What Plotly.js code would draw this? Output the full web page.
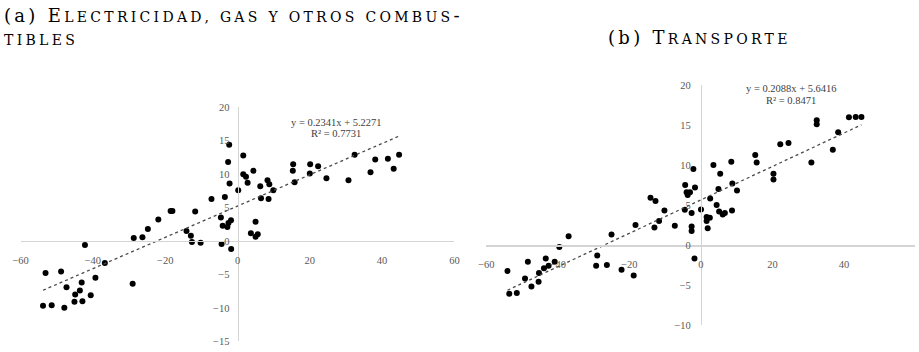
<!DOCTYPE html>
<html>
<head>
<meta charset="utf-8">
<script src="https://cdn.plot.ly/plotly-3.0.1.min.js"></script>
<style>html,body{margin:0;padding:0;background:#fff;}#chart{width:919px;height:352px;}</style>
</head>
<body>
<div id="chart"></div>
<script>
// ---- Data: panel (a) Electricidad, gas y otros combustibles ----
const aX = [-53.1,-48.8,-42.2,-36.7,-39.3,-47.3,-43.1,-43.6,-44.9,-40.6,-45.1,-42.9,-53.8,-51.4,-47.9,
  -29.0,-28.7,-26.3,-24.8,-21.9,-18.5,-18.0,-14.1,-12.9,-12.6,-10.2,-11.7,-7.2,-4.6,-4.1,-3.5,-4.4,
  -2.8,-2.5,-1.8,-2.3,-2.6,-2.2,-1.75,0.2,1.6,1.6,2.35,2.8,4.4,3.7,5.0,5.0,5.6,6.3,6.5,8.3,8.8,8.6,9.9,
  15.4,15.3,15.8,20.1,20.0,22.3,24.6,30.7,32.4,36.8,38.1,41.6,43.2,44.7];
const aY = [-4.8,-4.55,-0.6,-3.3,-5.5,-6.9,-6.2,-7.4,-8.0,-8.1,-9.1,-9.0,-9.7,-9.6,-10.0,
  -6.4,0.45,0.55,1.8,3.2,4.5,4.5,1.5,0.8,-0.15,-0.25,4.4,6.3,3.5,2.3,6.6,-0.45,
  2.1,2.7,3.1,14.4,11.8,8.6,-1.2,7.6,12.8,10.0,9.6,8.7,10.5,1.15,2.9,0.65,1.0,8.2,6.4,9.1,8.5,6.3,7.6,
  11.5,10.5,8.8,11.5,10.1,11.2,9.4,9.1,12.9,10.3,12.2,12.3,10.8,12.9];
const aSlope = 0.2341, aIntercept = 5.2271, aR2 = 0.7731;

// ---- Data: panel (b) Transporte ----
const bX = [-54.1,-53.6,-51.5,-48.4,-49.2,-47.4,-45.4,-45.3,-43.9,-43.4,-42.6,-40.9,-39.6,-37.0,
  -29.0,-29.3,-26.3,-25.0,-22.2,-18.8,-18.3,-14.1,-12.7,-13.0,-11.7,-10.2,-7.3,-4.4,-4.5,-4.0,-3.7,-3.05,
  -2.6,-2.6,-2.6,-2.1,-1.65,-1.8,0.03,1.6,1.6,2.5,1.9,2.6,3.5,4.4,4.9,5.1,5.4,6.1,6.7,8.5,8.8,8.7,10.1,
  15.2,15.6,20.3,20.3,22.2,24.5,30.9,32.4,32.4,36.9,38.4,41.4,43.3,44.9];
const bY = [-3.25,-6.1,-6.0,-2.1,-4.2,-5.2,-4.6,-3.5,-2.9,-1.7,-2.6,-2.1,-0.25,1.1,
  -1.3,-2.6,-2.5,1.3,-3.1,-3.8,2.5,5.9,5.5,2.2,3.0,4.3,2.4,7.5,4.4,6.6,6.25,6.6,
  4.0,2.3,1.75,9.5,7.2,-1.7,4.45,3.5,3.0,3.4,2.1,5.8,10.0,5.0,7.0,4.2,8.9,3.8,4.0,10.4,7.7,4.3,6.8,
  11.25,10.3,8.9,8.2,12.6,12.75,10.3,15.6,15.1,11.9,14.1,15.96,16.0,16.0];
const bSlope = 0.2088, bIntercept = 5.6416, bR2 = 0.8471;

const xTicks = [-60,-40,-20,0,20,40,60];
const aYTicks = [-15,-10,-5,0,5,10,15,20];
const bYTicks = [-10,-5,0,5,10,15,20];

// ---- Layout geometry (pixels -> paper fractions) ----
const W = 919, H = 352;
const fx = px => px / W, fy = py => 1 - py / H;
const aXdom = [fx(20.6), fx(454.4)], aYdom = [fy(341.3), fy(107.3)];
const bXdom = [fx(486.4), fx(915.4)], bYdom = [fy(325), fy(85)];
const aXr = [-60,60], aYr = [-15,20], bXr = [-60,60], bYr = [-10,20];
const zeroPos = (dom, r) => dom[0] + (0 - r[0]) / (r[1] - r[0]) * (dom[1] - dom[0]);

function trend(xs, m, b) {
  const lo = Math.min(...xs), hi = Math.max(...xs);
  return {x: [lo, hi], y: [m*lo + b, m*hi + b]};
}
const aT = trend(aX, aSlope, aIntercept), bT = trend(bX, bSlope, bIntercept);

const mk = {color: '#000', size: 6};
const ln = {color: '#4a4a4a', width: 1.3, dash: 'dot'};
const traces = [
  {x: aX, y: aY, type: 'scatter', mode: 'markers', marker: mk, xaxis: 'x', yaxis: 'y', hoverinfo: 'skip'},
  {x: aT.x, y: aT.y, type: 'scatter', mode: 'lines', line: ln, xaxis: 'x', yaxis: 'y', hoverinfo: 'skip'},
  {x: bX, y: bY, type: 'scatter', mode: 'markers', marker: mk, xaxis: 'x2', yaxis: 'y2', hoverinfo: 'skip'},
  {x: bT.x, y: bT.y, type: 'scatter', mode: 'lines', line: ln, xaxis: 'x2', yaxis: 'y2', hoverinfo: 'skip'}
];

const tickFont = {family: 'Liberation Serif, Times New Roman, serif', size: 10.5, color: '#595959'};
function axis(extra) {
  return Object.assign({
    showline: true, linecolor: '#d4d4d4', linewidth: 1, showgrid: false, zeroline: false,
    ticks: '', tickfont: tickFont, tickmode: 'array', fixedrange: true
  }, extra);
}

const fmtEq = (m, b) => 'y = ' + m.toFixed(4) + 'x + ' + b.toFixed(4);
const eqFont = {family: 'Liberation Serif, Times New Roman, serif', size: 10.5, color: '#404040'};
const titleFont = {family: 'DejaVu Serif, serif', size: 18, color: '#000'};
const ls = 'letter-spacing:3.3px';
const big = t => '<span style="' + ls + '">' + t + '</span>';
const sc = t => '<span style="font-size:14px;' + ls + '">' + t + '</span>';

const layout = {
  width: W, height: H,
  margin: {l: 0, r: 0, t: 0, b: 0},
  paper_bgcolor: '#fff', plot_bgcolor: 'rgba(0,0,0,0)',
  showlegend: false,
  xaxis: axis({domain: aXdom, range: aXr, anchor: 'free', position: zeroPos(aYdom, aYr),
    tickvals: xTicks, ticklabelstandoff: 9}),
  yaxis: axis({domain: aYdom, range: aYr, anchor: 'free', position: zeroPos(aXdom, aXr),
    tickvals: aYTicks, ticklabelstandoff: 6}),
  xaxis2: axis({domain: bXdom, range: bXr, anchor: 'free', position: zeroPos(bYdom, bYr),
    tickvals: xTicks, ticklabelstandoff: 9, linewidth: 1.5}),
  yaxis2: axis({domain: bYdom, range: bYr, anchor: 'free', position: zeroPos(bXdom, bXr),
    tickvals: bYTicks, ticklabelstandoff: 8}),
  annotations: [
    {xref: 'paper', yref: 'paper', x: fx(2), y: fy(16), xanchor: 'left', yanchor: 'middle', showarrow: false,
     font: titleFont, text: big('(a) E') + sc('LECTRICIDAD, GAS Y OTROS COMBUS') + big('-')},
    {xref: 'paper', yref: 'paper', x: fx(2), y: fy(40), xanchor: 'left', yanchor: 'middle', showarrow: false,
     font: titleFont, text: sc('TIBLES')},
    {xref: 'paper', yref: 'paper', x: fx(606), y: fy(38), xanchor: 'left', yanchor: 'middle', showarrow: false,
     font: titleFont, text: big('(b) T') + sc('RANSPORTE')},
    {xref: 'paper', yref: 'paper', x: fx(336), y: fy(122), xanchor: 'center', yanchor: 'middle', showarrow: false,
     font: eqFont, text: fmtEq(aSlope, aIntercept)},
    {xref: 'paper', yref: 'paper', x: fx(336), y: fy(134), xanchor: 'center', yanchor: 'middle', showarrow: false,
     font: eqFont, text: 'R² = ' + aR2.toFixed(4)},
    {xref: 'paper', yref: 'paper', x: fx(791), y: fy(88), xanchor: 'center', yanchor: 'middle', showarrow: false,
     font: eqFont, text: fmtEq(bSlope, bIntercept)},
    {xref: 'paper', yref: 'paper', x: fx(791), y: fy(100), xanchor: 'center', yanchor: 'middle', showarrow: false,
     font: eqFont, text: 'R² = ' + bR2.toFixed(4)}
  ]
};

Plotly.newPlot('chart', traces, layout, {staticPlot: true, displayModeBar: false});
</script>
</body>
</html>
